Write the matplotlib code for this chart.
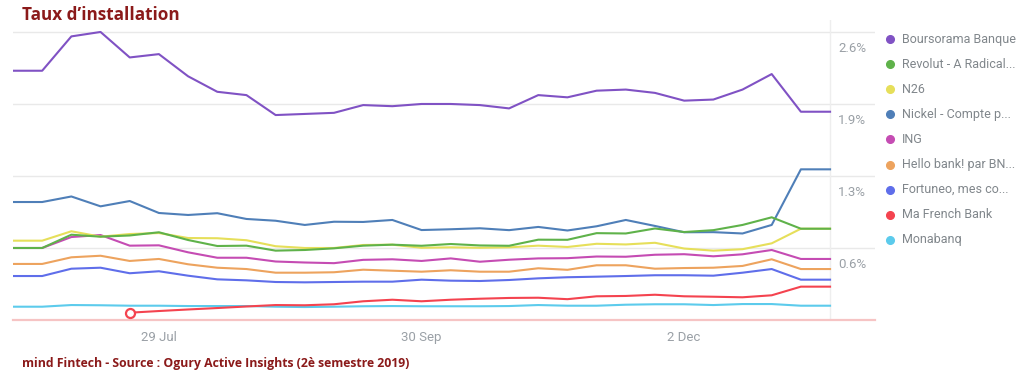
import numpy as np
import pandas as pd
import matplotlib
matplotlib.use("Agg")
import matplotlib.pyplot as plt
import matplotlib.dates as mdates

# weekly points, second half of 2019
weeks = pd.date_range("2019-06-24", periods=29, freq="7D")

names = ["Boursorama Banque", "Revolut - A Radical...", "N26", "Nickel - Compte p...",
         "ING", "Hello bank! par BN...", "Fortuneo, mes co...", "Ma French Bank", "Monabanq"]
colors = ["#8052c4", "#5fb24a", "#e6df5a", "#4f7fb8", "#c54cb3",
          "#eda35e", "#5f6eea", "#f4434f", "#5ccbec"]

boursorama = [2.25, 2.25, 2.56, 2.60, 2.37, 2.40, 2.20, 2.06, 2.03, 1.85, 1.86, 1.87, 1.94, 1.93, 1.95,
              1.95, 1.94, 1.91, 2.03, 2.01, 2.07, 2.08, 2.05, 1.98, 1.99, 2.08, 2.22, 1.88, 1.88]
revolut = [0.650, 0.650, 0.770, 0.752, 0.763, 0.792, 0.722, 0.668, 0.671, 0.626, 0.632, 0.647, 0.671, 0.680, 0.670,
           0.686, 0.673, 0.670, 0.725, 0.724, 0.784, 0.781, 0.826, 0.794, 0.811, 0.858, 0.927, 0.824, 0.824]
n26 = [0.716, 0.716, 0.801, 0.752, 0.776, 0.785, 0.740, 0.738, 0.720, 0.666, 0.650, 0.650, 0.677, 0.680, 0.652,
       0.656, 0.652, 0.656, 0.671, 0.659, 0.688, 0.682, 0.697, 0.645, 0.626, 0.639, 0.692, 0.824, 0.824]
nickel = [1.065, 1.065, 1.115, 1.026, 1.074, 0.966, 0.948, 0.964, 0.912, 0.896, 0.858, 0.887, 0.885, 0.903, 0.812,
          0.819, 0.828, 0.811, 0.840, 0.808, 0.846, 0.903, 0.849, 0.792, 0.793, 0.781, 0.858, 1.360, 1.360]
ing = [0.650, 0.650, 0.749, 0.767, 0.671, 0.674, 0.611, 0.562, 0.562, 0.528, 0.519, 0.513, 0.543, 0.548, 0.533,
       0.556, 0.526, 0.544, 0.556, 0.558, 0.573, 0.571, 0.589, 0.594, 0.575, 0.593, 0.632, 0.551, 0.551]
hello = [0.506, 0.506, 0.566, 0.580, 0.533, 0.551, 0.503, 0.472, 0.460, 0.427, 0.427, 0.431, 0.454, 0.445, 0.436,
         0.449, 0.436, 0.436, 0.467, 0.453, 0.494, 0.494, 0.463, 0.469, 0.472, 0.488, 0.548, 0.460, 0.460]
fortuneo = [0.397, 0.397, 0.463, 0.472, 0.422, 0.440, 0.400, 0.367, 0.358, 0.343, 0.340, 0.343, 0.346, 0.346, 0.364,
            0.355, 0.352, 0.361, 0.376, 0.386, 0.391, 0.397, 0.404, 0.404, 0.400, 0.427, 0.460, 0.364, 0.364]
mfb = [np.nan, np.nan, np.nan, np.nan, 0.066, 0.081, 0.095, 0.108, 0.122, 0.135, 0.133, 0.142, 0.169, 0.183, 0.169,
       0.183, 0.192, 0.199, 0.201, 0.188, 0.214, 0.217, 0.228, 0.214, 0.210, 0.205, 0.223, 0.301, 0.301]
monabanq = [0.120, 0.120, 0.135, 0.133, 0.129, 0.129, 0.126, 0.126, 0.126, 0.120, 0.117, 0.120, 0.124, 0.126, 0.124,
            0.124, 0.124, 0.126, 0.135, 0.129, 0.129, 0.138, 0.142, 0.142, 0.135, 0.144, 0.144, 0.129, 0.129]

series = [boursorama, revolut, n26, nickel, ing, hello, fortuneo, mfb, monabanq]
grid_vals = [0.65, 1.3, 1.95, 2.6]
grid_labels = ["0.6%", "1.3%", "1.9%", "2.6%"]
tick_dates = pd.to_datetime(["2019-07-29", "2019-09-30", "2019-12-02"])

title_red = "#8b1a1a"
label_grey = "#9aa0a6"

fig = plt.figure(figsize=(10.24, 3.75), dpi=100)
ax = fig.add_axes([13 / 1024, 55 / 375, 862 / 1024, 300 / 375])

week = pd.Timedelta(days=7)
ax.set_xlim(weeks[0], weeks[0] + 29.54 * week)
ax.set_ylim(0, 2.708)

for v in grid_vals:
    ax.axhline(v, color="#e9e9e9", lw=1, zorder=0)
ax.axhline(0, color="#f6c4c4", lw=1.6, zorder=1, clip_on=False)
ax.axvline(weeks[-1], color="#eeeeee", lw=1, zorder=0)

n = len(series)
for i, (vals, c) in enumerate(zip(series, colors)):
    ax.plot(weeks, vals, color=c, lw=1.5, zorder=10 + n - i, solid_joinstyle="round")

# open circle where Ma French Bank starts
first = int(np.where(~np.isnan(mfb))[0][0])
ax.plot([weeks[first]], [mfb[first]], "o", ms=6.5, mfc="white", mec=colors[7], mew=1.6, zorder=30)

for v, lab in zip(grid_vals, grid_labels):
    ax.annotate(lab, xy=(weeks[-1], v), xytext=(8, -17), textcoords="offset pixels",
                ha="left", va="center", fontsize=9.5, color=label_grey, family="Roboto")

ax.set_xticks(tick_dates)
ax.xaxis.set_major_formatter(mdates.DateFormatter("%-d %b"))
ax.tick_params(axis="x", length=0, pad=8, labelsize=9.5, labelcolor=label_grey)
for t in ax.get_xticklabels():
    t.set_family("Roboto")
ax.set_yticks([])
for s in ax.spines.values():
    s.set_visible(False)

# legend on the right
lax = fig.add_axes([0, 0, 1, 1], facecolor="none")
lax.set_xlim(0, 1024)
lax.set_ylim(375, 0)
lax.axis("off")
for i, (name, c) in enumerate(zip(names, colors)):
    y = 39 + i * 25.1
    lax.plot([890], [y], "o", ms=5.5, color=c)
    lax.text(902, y, name, va="center", ha="left", fontsize=9, color="#80868b", family="Roboto")

fig.text(22 / 1024, 1 - 15 / 375, "Taux d\u2019installation", ha="left", va="center",
         fontsize=12.3, fontweight="bold", color=title_red, family="Open Sans")
fig.text(22 / 1024, 1 - 364 / 375, "mind Fintech - Source : Ogury Active Insights (2\u00e8 semestre 2019)",
         ha="left", va="center", fontsize=8.8, fontweight="bold", color=title_red, family="Open Sans")

fig.savefig("out.png", dpi=100)
